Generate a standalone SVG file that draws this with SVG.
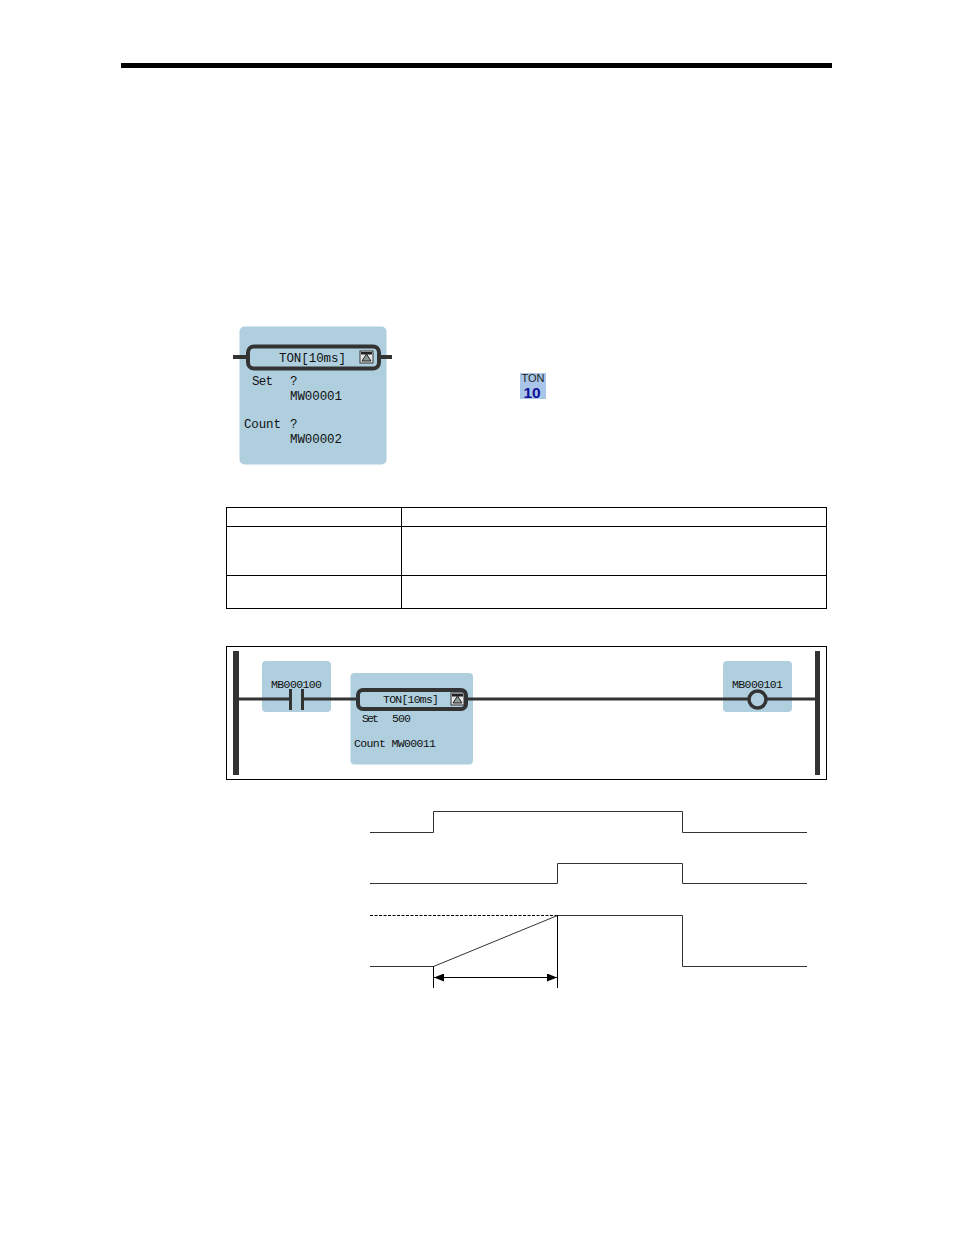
<svg xmlns="http://www.w3.org/2000/svg" width="954" height="1235" viewBox="0 0 954 1235">
<style>
.blk{fill:#afcfdf}
.rung{stroke:#333;fill:none}
.t{font-family:"Liberation Mono","DejaVu Sans Mono",monospace;font-size:12.5px;fill:#111}
.ts{font-family:"Liberation Mono","DejaVu Sans Mono",monospace;font-size:11.5px;fill:#111}
.thin{stroke:#000;stroke-width:1;fill:none}
.wave{stroke:#333;stroke-width:1;fill:none}
</style>
<defs>
<marker id="arr" viewBox="0 0 10 8" refX="10" refY="4" markerWidth="10" markerHeight="8" orient="auto-start-reverse" markerUnits="userSpaceOnUse"><path d="M0 0L10 4L0 8Z" fill="#000"/></marker>
<g id="ico"><rect x="0" y="0" width="13" height="12" fill="#e8e8e8" stroke="#333"/><path d="M2 10L6.500 3L11 10Z" fill="#8a9a90" stroke="#222"/><rect x="1" y="1" width="11" height="2.500" fill="#222"/></g>
</defs>
<rect width="954" height="1235" fill="#fff"/>
<rect id="top-rule" x="121" y="63" width="711" height="5" fill="#000"/>
<g id="ton-block">
<rect class="blk" x="239.500" y="326.500" width="147" height="138" rx="5"/>
<path class="rung" stroke-width="4" d="M233 357H248M379 357H392"/>
<rect x="248" y="346.500" width="131" height="22" rx="6" fill="none" stroke="#333" stroke-width="4"/>
<text class="t" x="279" y="362" textLength="67">TON[10ms]</text>
<use href="#ico" x="360" y="351"/>
<text class="t" x="252" y="385" textLength="21">Set</text>
<text class="t" x="290" y="385">?</text>
<text class="t" x="290" y="400" textLength="52">MW00001</text>
<text class="t" x="244" y="428" textLength="37">Count</text>
<text class="t" x="290" y="428">?</text>
<text class="t" x="290" y="443" textLength="52">MW00002</text>
</g>
<g id="ton-icon">
<rect x="520" y="373" width="26" height="26" fill="#a9c6e8"/>
<text x="533" y="382" text-anchor="middle" font-family="Liberation Sans,sans-serif" font-size="11" fill="#222" textLength="23">TON</text>
<text x="532" y="398" text-anchor="middle" font-family="Liberation Sans,sans-serif" font-size="15.500" font-weight="700" fill="#10109a">10</text>
</g>
<g id="table" class="thin">
<rect class="thin" x="226.500" y="507.500" width="600" height="101"/>
<path class="thin" d="M226 526.500H827M226 575.500H827M401.500 507V609"/>
</g>
<g id="ladder">
<rect class="thin" x="226.500" y="646.500" width="600" height="133"/>
<rect class="blk" x="262" y="661" width="69" height="51" rx="4"/>
<rect class="blk" x="350.500" y="673" width="122.500" height="91.500" rx="4"/>
<rect class="blk" x="723" y="661" width="69" height="51" rx="4"/>
<rect x="233" y="651" width="6" height="124" fill="#333"/>
<rect x="815" y="651" width="5" height="124" fill="#333"/>
<path class="rung" stroke-width="3" d="M239 699H290M303 699H357M467 699H748M767 699H815"/>
<path class="rung" stroke-width="3" d="M290.500 689V710M302.500 689V710"/>
<rect x="358" y="690" width="108" height="19" rx="5" fill="none" stroke="#333" stroke-width="4"/>
<circle cx="757.500" cy="699.500" r="8.500" fill="none" stroke="#333" stroke-width="3.500"/>
<use href="#ico" x="451" y="693"/>
<text class="ts" x="271" y="687.500" textLength="51">MB000100</text>
<text class="ts" x="732" y="687.500" textLength="51">MB000101</text>
<text class="ts" x="383" y="703" textLength="56">TON[10ms]</text>
<text class="ts" x="362" y="722" textLength="17">Set</text>
<text class="ts" x="392" y="722" textLength="19">500</text>
<text class="ts" x="354" y="747" textLength="82">Count MW00011</text>
</g>
<g id="timing">
<path class="wave" d="M370 832.500H433.500V811.500H682.500V832.500H807"/>
<path class="wave" d="M370 883.500H557.500V863.500H682.500V883.500H807"/>
<path class="thin" stroke-dasharray="3 1.500" d="M370 915.500H557"/>
<path class="wave" d="M370 966.500H433.500L557.500 915.500H682.500V966.500H807"/>
<path class="thin" d="M433.500 966V988M557.500 915V988"/>
<path class="thin" d="M434 977.500H557" marker-start="url(#arr)" marker-end="url(#arr)"/>
</g>
</svg>
